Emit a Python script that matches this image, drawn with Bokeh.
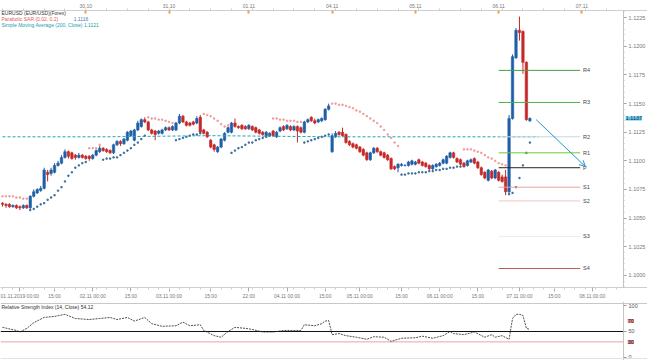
from bokeh.plotting import figure
from bokeh.models import (ColumnDataSource, Range1d, LinearAxis, FixedTicker, Label,
                          Arrow, OpenHead, Span, PrintfTickFormatter)
from bokeh.layouts import column
from bokeh.embed import file_html
from bokeh.resources import INLINE
from bokeh.core.properties import value

# ---------------- data ----------------
opens = [1.1063,1.1062,1.1062,1.1060,1.1061,1.1060,1.1059,1.1061,1.1059,1.1069,
         1.1072,1.1074,1.1076,1.1090,1.1089,1.1090,1.1096,1.1098,1.1103,1.1108,
         1.1107,1.1105,1.1103,1.1105,1.1104,1.1104,1.1102,1.1105,1.1108,1.1111,
         1.1110,1.1109,1.1107,1.1114,1.1117,1.1115,1.1118,1.1122,1.1118,1.1127,
         1.1130,1.1136,1.1134,1.1127,1.1126,1.1124,1.1124,1.1127,1.1129,1.1127,
         1.1127,1.1133,1.1139,1.1134,1.1133,1.1134,1.1133,1.1138,1.1127,1.1125,
         1.1118,1.1114,1.1108,1.1112,1.1118,1.1125,1.1125,1.1133,1.1130,1.1131,
         1.1130,1.1128,1.1130,1.1129,1.1127,1.1125,1.1122,1.1122,1.1126,1.1121,
         1.1126,1.1130,1.1128,1.1130,1.1127,1.1130,1.1129,1.1125,1.1134,1.1138,
         1.1135,1.1134,1.1135,1.1136,1.1145,1.1108,1.1121,1.1125,1.1125,1.1123,
         1.1117,1.1115,1.1114,1.1112,1.1110,1.1107,1.1101,1.1107,1.1111,1.1108,
         1.1107,1.1105,1.1102,1.1095,1.1094,1.1096,1.1096,1.1096,1.1097,1.1097,
         1.1101,1.1099,1.1098,1.1096,1.1093,1.1095,1.1096,1.1098,1.1098,1.1103,
         1.1107,1.1102,1.1101,1.1098,1.1096,1.1099,1.1102,1.1099,1.1094,1.1090,
         1.1083,1.1091,1.1085,1.1090,1.1086,1.1086,1.1073,1.1137,1.1190,1.1214,
         1.1213,1.1186,1.1135]
closes = [1.1062,1.1061,1.1060,1.1061,1.1059,1.1059,1.1061,1.1059,1.1069,1.1073,
          1.1075,1.1076,1.1092,1.1088,1.1092,1.1096,1.1098,1.1103,1.1108,1.1104,
          1.1102,1.1103,1.1105,1.1103,1.1102,1.1102,1.1105,1.1109,1.1111,1.1109,
          1.1108,1.1107,1.1114,1.1117,1.1115,1.1119,1.1125,1.1126,1.1127,1.1133,
          1.1136,1.1134,1.1127,1.1124,1.1123,1.1126,1.1127,1.1129,1.1127,1.1130,
          1.1133,1.1139,1.1134,1.1131,1.1131,1.1132,1.1137,1.1125,1.1124,1.1121,
          1.1112,1.1110,1.1112,1.1119,1.1124,1.1129,1.1133,1.1130,1.1129,1.1128,
          1.1128,1.1131,1.1127,1.1125,1.1124,1.1123,1.1125,1.1124,1.1122,1.1125,
          1.1129,1.1127,1.1131,1.1127,1.1130,1.1126,1.1125,1.1134,1.1136,1.1135,
          1.1133,1.1136,1.1137,1.1145,1.1148,1.1122,1.1124,1.1123,1.1122,1.1116,
          1.1114,1.1112,1.1111,1.1108,1.1105,1.1101,1.1107,1.1111,1.1108,1.1105,
          1.1103,1.1101,1.1093,1.1093,1.1097,1.1097,1.1096,1.1099,1.1100,1.1099,
          1.1098,1.1096,1.1095,1.1093,1.1096,1.1097,1.1098,1.1101,1.1104,1.1107,
          1.1103,1.1099,1.1097,1.1095,1.1100,1.1101,1.1098,1.1094,1.1088,1.1085,
          1.1092,1.1085,1.1092,1.1083,1.1082,1.1073,1.1137,1.1191,1.1214,1.1212,
          1.1186,1.1136,1.1137]
highs = [1.1064,1.1063,1.1063,1.1062,1.1062,1.1061,1.1062,1.1062,1.1070,1.1075,
         1.1076,1.1078,1.1094,1.1092,1.1094,1.1098,1.1100,1.1105,1.1110,1.1109,
         1.1108,1.1106,1.1107,1.1106,1.1105,1.1105,1.1106,1.1110,1.1113,1.1112,
         1.1111,1.1110,1.1115,1.1118,1.1118,1.1120,1.1126,1.1127,1.1128,1.1135,
         1.1137,1.1138,1.1135,1.1128,1.1127,1.1127,1.1128,1.1130,1.1130,1.1131,
         1.1134,1.1141,1.1140,1.1135,1.1134,1.1135,1.1139,1.1140,1.1128,1.1126,
         1.1119,1.1115,1.1113,1.1120,1.1125,1.1130,1.1134,1.1137,1.1131,1.1132,
         1.1131,1.1132,1.1131,1.1130,1.1128,1.1126,1.1126,1.1125,1.1127,1.1126,
         1.1130,1.1131,1.1132,1.1131,1.1131,1.1131,1.1130,1.1135,1.1137,1.1139,
         1.1137,1.1137,1.1138,1.1146,1.1150,1.1124,1.1126,1.1126,1.1129,1.1124,
         1.1118,1.1116,1.1115,1.1113,1.1111,1.1108,1.1108,1.1112,1.1112,1.1109,
         1.1108,1.1106,1.1103,1.1096,1.1098,1.1098,1.1097,1.1100,1.1101,1.1100,
         1.1102,1.1100,1.1099,1.1097,1.1097,1.1098,1.1099,1.1102,1.1105,1.1108,
         1.1108,1.1103,1.1102,1.1099,1.1101,1.1102,1.1103,1.1100,1.1095,1.1091,
         1.1093,1.1092,1.1093,1.1091,1.1088,1.1092,1.1140,1.1193,1.1216,1.1226,
         1.1214,1.1187,1.1138]
lows = [1.1060,1.1059,1.1059,1.1059,1.1058,1.1057,1.1058,1.1058,1.1058,1.1068,
        1.1071,1.1073,1.1075,1.1082,1.1087,1.1089,1.1095,1.1097,1.1102,1.1102,
        1.1101,1.1101,1.1102,1.1102,1.1101,1.1100,1.1101,1.1104,1.1107,1.1108,
        1.1107,1.1106,1.1106,1.1113,1.1113,1.1114,1.1117,1.1121,1.1117,1.1126,
        1.1129,1.1133,1.1126,1.1123,1.1118,1.1123,1.1123,1.1126,1.1126,1.1126,
        1.1126,1.1132,1.1133,1.1130,1.1130,1.1131,1.1132,1.1124,1.1123,1.1120,
        1.1111,1.1108,1.1107,1.1111,1.1117,1.1124,1.1124,1.1129,1.1128,1.1127,
        1.1127,1.1127,1.1126,1.1124,1.1123,1.1122,1.1121,1.1121,1.1121,1.1120,
        1.1125,1.1126,1.1127,1.1126,1.1126,1.1116,1.1124,1.1124,1.1133,1.1134,
        1.1132,1.1133,1.1134,1.1135,1.1144,1.1107,1.1120,1.1122,1.1121,1.1115,
        1.1113,1.1111,1.1110,1.1107,1.1104,1.1100,1.1100,1.1106,1.1107,1.1104,
        1.1102,1.1100,1.1092,1.1092,1.1090,1.1095,1.1095,1.1095,1.1096,1.1096,
        1.1097,1.1095,1.1094,1.1092,1.1092,1.1094,1.1095,1.1097,1.1097,1.1102,
        1.1102,1.1098,1.1096,1.1094,1.1095,1.1098,1.1097,1.1093,1.1087,1.1084,
        1.1082,1.1084,1.1084,1.1082,1.1081,1.1070,1.1070,1.1136,1.1189,1.1205,
        1.1176,1.1135,1.1134]
sar = [1.1069,1.1069,1.1069,1.1069,1.1068,1.1068,1.1067,1.1067,
       1.1057,1.1058,1.1060,1.1062,1.1063,1.1066,1.1068,1.1070,1.1074,1.1077,1.1082,1.1087,1.1090,1.1094,1.1096,1.1098,1.1099,
       1.1111,1.1111,1.1111,1.1114,
       1.1101,1.1102,1.1102,1.1103,1.1103,1.1105,1.1107,1.1109,1.1111,1.1114,1.1116,1.1119,1.1122,
       1.1138,1.1137,1.1137,1.1136,1.1136,1.1135,1.1134,1.1133,
       1.1118,1.1119,1.1120,1.1121,1.1122,1.1123,1.1123,1.1124,
       1.1141,1.1140,1.1139,1.1137,1.1135,1.1132,1.1130,1.1131,
       1.1107,1.1109,1.1111,1.1112,1.1114,1.1116,1.1116,1.1118,1.1119,1.1120,1.1121,1.1122,
       1.1137,1.1137,1.1136,1.1136,1.1135,1.1135,1.1135,1.1134,1.1134,
       1.1116,1.1117,1.1118,1.1119,1.1120,1.1121,1.1122,1.1123,
       1.1150,1.1150,1.1149,1.1149,1.1148,1.1147,1.1146,1.1144,1.1143,1.1141,
       1.1139,1.1137,1.1135,1.1133,1.1130,1.1127,1.1123,1.1120,1.1116,1.1113,
       1.1088,1.1088,1.1089,1.1089,1.1089,1.1090,1.1090,1.1090,1.1091,1.1091,
       1.1092,1.1092,1.1093,1.1093,1.1094,1.1094,1.1095,1.1095,
       1.1110,1.1110,1.1110,1.1109,1.1108,1.1107,1.1105,1.1103,1.1102,1.1100,1.1098,1.1097,1.1096,
       1.1071,1.1072,1.1077,1.1085,1.1096,1.1107,1.1116]
ma_idx = [0, 30, 60, 95, 125, 154.5]
ma_val = [1.1121, 1.1121, 1.1122, 1.1121, 1.1121, 1.1121]

pivot_names = ["R4", "R3", "R2", "R1", "P", "S1", "S2", "S3", "S4"]
pivot_vals = [1.1179, 1.1151, 1.1121, 1.1107, 1.1094, 1.1077, 1.1065, 1.1034, 1.1006]

rsi_idx = [0,4,5,7,9,12,15,18,21,25,28,31,33,36,38,41,43,46,50,52,54,57,58,61,63,65,67,70,72,75,
           78,81,86,87,90,92,93,94,95,97,99,102,105,107,110,112,115,119,121,124,127,129,130,133,136,
           139,141,142,144,146,147,148,149,150,151,152]
rsi_val = [58,52,49,56,67,77,79,83,75,73,75,77,73,77,70,77,65,60,61,68,61,63,52,42,39,50,58,56,54,49,
           49,52,52,63,61,65,70,71,44,46,42,39,35,40,39,31,37,38,41,37,42,50,46,44,49,
           39,44,39,42,35,75,83,83,81,56,54]

price_ticks = [1.1000, 1.1025, 1.1050, 1.1075, 1.1100, 1.1125, 1.1150, 1.1175, 1.1200, 1.1225]
last_price = 1.1137

time_tick_pos = [5, 15, 26, 37, 48, 60, 71, 82, 93, 103, 115, 126, 137, 149, 159, 170]
time_tick_labels = ["01.11.2019 00:00", "15:00", "02.11 00:00", "15:00", "03.11 00:00", "15:00",
                    "22:00", "04.11 00:00", "15:00", "05.11 00:00", "15:00", "06.11 00:00",
                    "15:00", "07.11 00:00", "15:00", "08.11 00:00"]
event_pos = [24, 48, 71, 95, 119, 143, 167]
event_labels = ["30.10", "31.10", "01.11", "04.11", "05.11", "06.11", "07.11"]

rsi_ticks = [0, 50, 100]
rsi_marks = [70, 30]

# ---------------- styling ----------------
FONT = "Liberation Sans"
UP, DOWN = "#1f5fa8", "#c62828"
pivot_colors = ["#43a047", "#4caf50", "#c8d8e0", "#66cc33", "#222222",
                "#e8a0a0", "#f2c4c4", "#ececec", "#b85a50"]
X_START, X_AXIS, X_END = -0.58, 179.0, 185.9   # frame also covers the price-scale strip

N = len(closes)
xs = list(range(N))
cols = [UP if c >= o else DOWN for o, c in zip(opens, closes)]
src = ColumnDataSource(dict(x=xs, o=opens, c=closes, h=highs, l=lows,
                            top=[max(o, c) for o, c in zip(opens, closes)],
                            bot=[min(o, c) for o, c in zip(opens, closes)],
                            color=cols))
sar_src = ColumnDataSource(dict(x=xs, y=sar,
                                color=["#3d6f99" if s < c else "#f39a9a" for s, c in zip(sar, closes)]))

XR = Range1d(X_START, X_END)
p = figure(width=647, height=301, x_range=XR, y_range=Range1d(1.09894, 1.12313),
           y_axis_location="right", output_backend="svg", toolbar_location=None,
           min_border_left=0, min_border_right=0, min_border_top=0, min_border_bottom=0)
p.grid.visible = False
p.outline_line_color = None

p.segment(x0="x", y0="h", x1="x", y1="l", line_color="color", line_width=1, source=src)
p.vbar(x="x", width=0.7, top="top", bottom="bot", fill_color="color",
       line_color="color", line_width=0.6, source=src)
p.scatter(x="x", y="y", size=1.3, marker="square", color="color", source=sar_src)
p.line(ma_idx, ma_val, line_color="#22a3b4", line_dash="3 2", line_width=1)

piv_start, piv_end, piv_label_x = 143, 166.5, 167.3
for nm, pv, pc in zip(pivot_names, pivot_vals, pivot_colors):
    p.segment(x0=[piv_start], x1=[piv_end], y0=[pv], y1=[pv], line_color=pc, line_width=1)
p.text(x=[piv_label_x] * len(pivot_vals), y=pivot_vals, text=pivot_names,
       text_font=value(FONT), text_font_size="5.5px", text_baseline="middle",
       text_color="#444444")

p.add_layout(Arrow(end=OpenHead(size=6, line_color="#2196c8", line_width=1),
                   x_start=153.8, y_start=1.1136, x_end=168.0, y_end=1.1095,
                   line_color="#2196c8", line_width=1))

# right price axis, pinned at the edge of the price-scale strip
ya = p.yaxis[0]
ya.fixed_location = X_AXIS
ya.ticker = FixedTicker(ticks=price_ticks,
                        minor_ticks=[round(1.0990 + 0.0005 * k, 4) for k in range(50)])
ya.formatter = PrintfTickFormatter(format="%.4f")
ya.axis_line_color = "#c4c4c4"
ya.major_tick_line_color = "#9a9a9a"
ya.minor_tick_line_color = "#bbbbbb"
ya.major_tick_out, ya.major_tick_in = 3, 0
ya.minor_tick_out, ya.minor_tick_in = 1, 0
ya.major_label_standoff = 2
ya.major_label_text_font = FONT
ya.major_label_text_font_size = "5.5px"
ya.major_label_text_color = "#777777"

# bottom time axis
xa = p.xaxis[0]
xa.ticker = FixedTicker(ticks=time_tick_pos, minor_ticks=list(range(0, 179, 3)))
xa.major_label_overrides = {t: s for t, s in zip(time_tick_pos, time_tick_labels)}
xa.axis_line_color = "#cfcfcf"
xa.major_tick_line_color = "#aaaaaa"
xa.minor_tick_line_color = "#cccccc"
xa.major_tick_out, xa.major_tick_in = 4, 0
xa.minor_tick_out, xa.minor_tick_in = 2, 0
xa.major_label_standoff = 1
xa.major_label_text_font = FONT
xa.major_label_text_font_size = "5px"
xa.major_label_text_color = "#777777"

# top event axis
ta = LinearAxis(ticker=FixedTicker(ticks=event_pos, minor_ticks=list(range(0, 179, 6))),
                major_label_overrides={t: s for t, s in zip(event_pos, event_labels)})
ta.axis_line_color = "#cfcfcf"
ta.major_tick_line_color = "#f0a040"
ta.major_tick_line_width = 2
ta.major_tick_in, ta.major_tick_out = 3, 0
ta.minor_tick_line_color = "#cccccc"
ta.minor_tick_in, ta.minor_tick_out = 0, 2
ta.major_label_standoff = 1
ta.major_label_text_font = FONT
ta.major_label_text_font_size = "5px"
ta.major_label_text_color = "#777777"
p.add_layout(ta, "above")

# legend texts
for txt, yy, col, xx in [("EURUSD (EUR/USD)(Forex)", 1.12287, "#333333", -0.3),
                         ("Parabolic SAR (0.02, 0.2)", 1.12236, "#e06060", -0.3),
                         ("1.1116", 1.12236, "#4a7ab0", 20.5),
                         ("Simple Moving Average (200, Close) 1.1121", 1.12190, "#20a0b0", -0.3)]:
    p.add_layout(Label(x=xx, y=yy, text=txt, text_font=FONT, text_font_size="5px",
                       text_baseline="middle", text_color=col))

# current price tag on the price scale
p.add_layout(Label(x=X_AXIS + 0.6, y=last_price, text="%.4f" % last_price,
                   text_font=FONT, text_font_size="5.5px", text_baseline="middle",
                   text_color="#123344", background_fill_color="#5cc4ee"))

# ---------------- RSI panel ----------------
ind = figure(width=647, height=59, x_range=XR, y_range=Range1d(-5.8, 107.7),
             y_axis_location="right", output_backend="svg", toolbar_location=None,
             min_border_left=0, min_border_right=0, min_border_top=0, min_border_bottom=0)
ind.grid.visible = False
ind.xaxis.visible = False
ind.outline_line_color = None
ind.add_layout(Span(location=103.8, dimension="width", line_color="#c8c8c8", line_width=1))
ind.add_layout(Span(location=-1.9, dimension="width", line_color="#e2e2e2", line_width=1))
ind.segment(x0=[X_START], x1=[X_AXIS], y0=[50], y1=[50], line_color="#111111", line_width=1)
ind.segment(x0=[X_START], x1=[X_AXIS], y0=[30], y1=[30], line_color="#f2a0a0", line_width=1)
ind.line(rsi_idx, rsi_val, line_color="#222222", line_dash="2 1", line_width=0.8)

ra = ind.yaxis[0]
ra.fixed_location = X_AXIS
ra.ticker = FixedTicker(ticks=rsi_ticks)
ra.axis_line_color = "#c4c4c4"
ra.major_tick_line_color = "#9a9a9a"
ra.major_tick_out, ra.major_tick_in = 3, 0
ra.major_label_standoff = 2
ra.major_label_text_font = FONT
ra.major_label_text_font_size = "5.5px"
ra.major_label_text_color = "#555555"

for m in rsi_marks:
    ind.add_layout(Label(x=X_AXIS + 1.2, y=m, text=str(m), text_font=FONT,
                         text_font_size="5.5px", text_baseline="middle",
                         text_color="#222222", background_fill_color="#e88a8a"))
ind.add_layout(Label(x=-0.3, y=102, text="Relative Strength Index (14, Close) 54.12",
                     text_font=FONT, text_font_size="5px", text_baseline="top",
                     text_color="#333333"))

layout = column(p, ind, spacing=0)
open("out.html", "w").write(file_html(layout, INLINE))
